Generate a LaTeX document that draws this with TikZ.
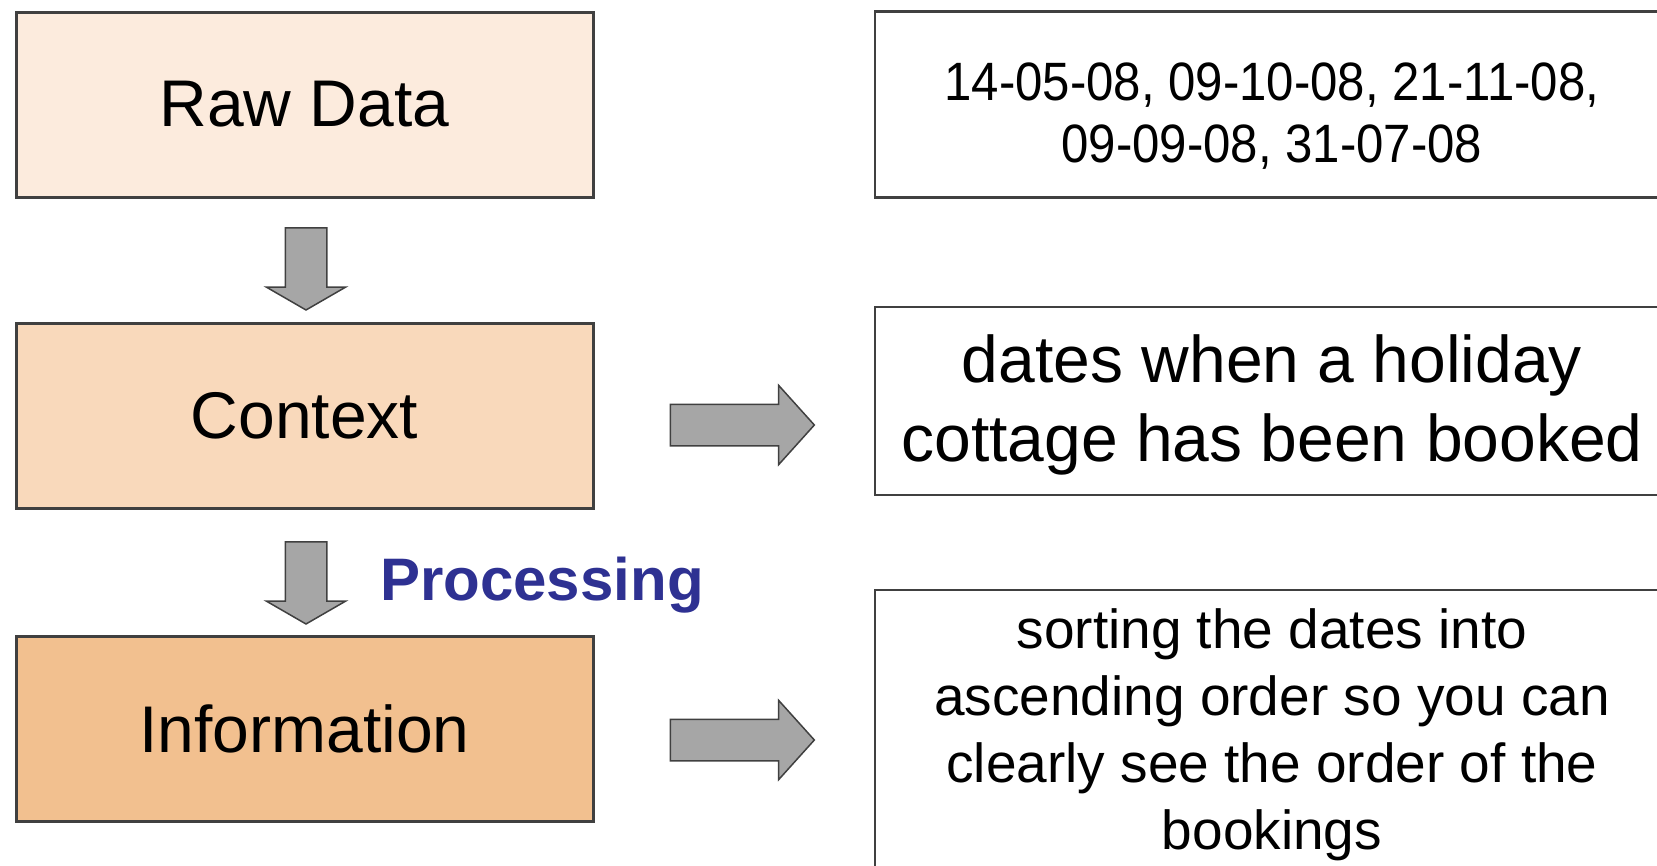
\documentclass[tikz,border=0pt]{standalone}
\usepackage{fontspec}
\setmainfont{Liberation Sans}
\newfontfamily\datesfont[FakeStretch=0.91]{Liberation Sans}
\usetikzlibrary{shapes.arrows}
\definecolor{rawfill}{RGB}{252,235,221}
\definecolor{ctxfill}{RGB}{249,217,187}
\definecolor{infofill}{RGB}{242,192,143}
\definecolor{procblue}{RGB}{46,49,146}
\definecolor{edge}{RGB}{64,64,64}
\definecolor{arrowgray}{RGB}{166,166,166}
\begin{document}
\begin{tikzpicture}[x=1pt,y=-1pt,
  stage/.style={shape=rectangle,draw=edge,line width=3pt,minimum width=577pt,minimum height=185pt,font=\fontsize{66}{79}\selectfont},
  note/.style={shape=rectangle,draw=edge,line width=2.5pt,fill=white,minimum width=794pt,align=center},
  blockarrow/.style={single arrow,draw=edge,fill=arrowgray,line width=1.5pt,inner xsep=0pt,inner ysep=20pt,single arrow head extend=19pt}]
\useasboundingbox (0,0) rectangle (1657,865);
% left column
\node  (raw) at (304.5,104.5) [stage,fill=rawfill] {Raw Data};
\node  (ctx) at (304.5,416)   [stage,fill=ctxfill] {Context};
\node (info) at (304.5,729)   [stage,fill=infofill] {Information};
% right column
\node (dates)   at (1272,104.5) [note,minimum height=186pt,font=\datesfont\fontsize{54}{62}\selectfont] {\rule{0pt}{60pt}14-05-08, 09-10-08, 21-11-08,\\09-09-08, 31-07-08};
\node (meaning) at (1272,401)   [note,minimum height=188pt,font=\fontsize{66}{79}\selectfont] {\rule{0pt}{56pt}dates when a holiday\\cottage has been booked};
\node (sorting) at (1272,735)   [note,minimum height=290pt,font=\fontsize{55}{67}\selectfont] {sorting the dates into\\ascending order so you can\\clearly see the order of the\\bookings};
% block arrows
\node (down1)  at (306,263) [blockarrow,rotate=-90,minimum height=82pt,single arrow tip angle=120] {};
\node (down2)  at (306,577) [blockarrow,rotate=-90,minimum height=82pt,single arrow tip angle=120] {};
\node (right1) at (733,425) [blockarrow,minimum height=144pt,single arrow tip angle=96] {};
\node (right2) at (733,740) [blockarrow,minimum height=144pt,single arrow tip angle=96] {};
\node (proc) at (380,600) [anchor=base west,inner sep=0pt,text=procblue,font=\fontsize{60}{72}\selectfont\bfseries] {Processing};
\end{tikzpicture}
\end{document}
